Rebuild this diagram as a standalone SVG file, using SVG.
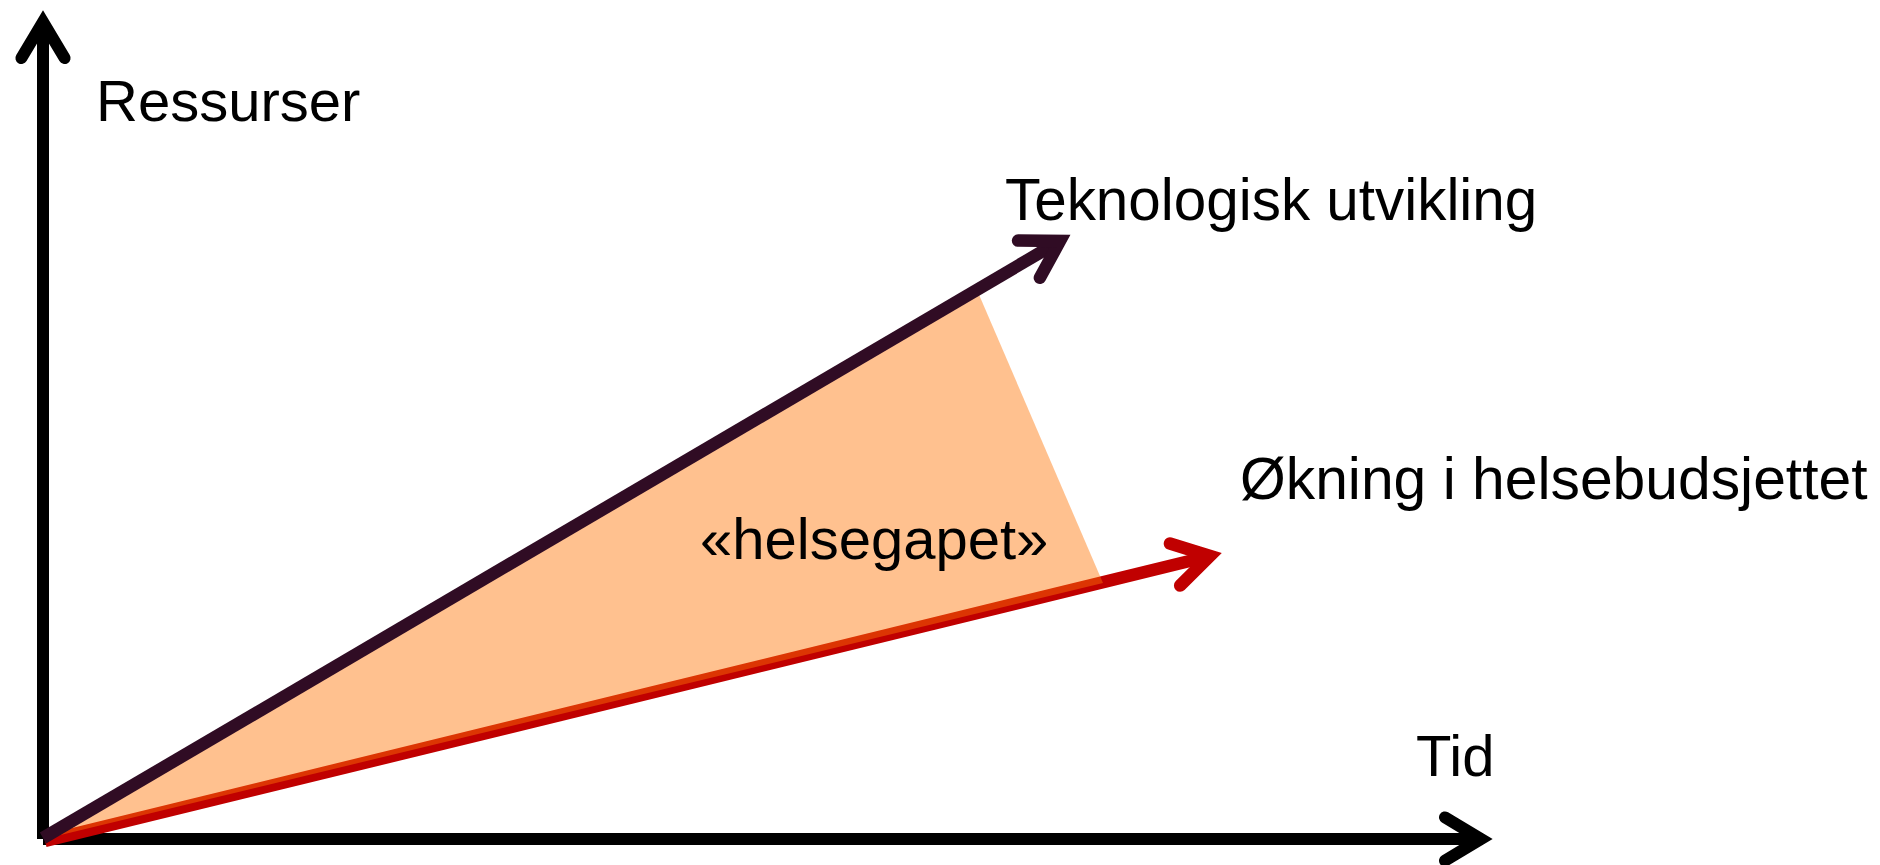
<svg xmlns="http://www.w3.org/2000/svg" width="1880" height="865" viewBox="0 0 1880 865">
  <style>
    .lbl { font-family: "Liberation Sans", Arial, sans-serif; font-size: 58px; fill: #000; }
    .ax { stroke: #000; stroke-width: 12; fill: none; stroke-linecap: butt; }
    .tech { stroke: #300C24; stroke-width: 12.5; fill: none; }
    .budget { stroke: #C00000; stroke-width: 12.5; fill: none; }
  </style>
  <defs>
    <marker id="headBlack" markerUnits="userSpaceOnUse" orient="auto" refX="0" refY="0" markerWidth="100" markerHeight="100" viewBox="-50 -50 100 100" overflow="visible">
      <polyline points="-36,-21.6 0,0 -36,21.6" fill="none" stroke="#000" stroke-width="12" stroke-linecap="round" stroke-linejoin="miter"/>
    </marker>
    <marker id="headPurple" markerUnits="userSpaceOnUse" orient="auto" refX="0" refY="0" markerWidth="100" markerHeight="100" viewBox="-50 -50 100 100" overflow="visible">
      <polyline points="-36,-21.6 0,0 -36,21.6" fill="none" stroke="#300C24" stroke-width="12.5" stroke-linecap="round" stroke-linejoin="miter"/>
    </marker>
    <marker id="headRed" markerUnits="userSpaceOnUse" orient="auto" refX="0" refY="0" markerWidth="100" markerHeight="100" viewBox="-50 -50 100 100" overflow="visible">
      <polyline points="-36,-21.6 0,0 -36,21.6" fill="none" stroke="#C00000" stroke-width="12.5" stroke-linecap="round" stroke-linejoin="miter"/>
    </marker>
  </defs>
  <rect width="1880" height="865" fill="#fff"/>
  <g id="connectors">
    <line id="y-axis" class="ax" x1="43" y1="839" x2="43" y2="22" marker-end="url(#headBlack)"/>
    <line id="x-axis" class="ax" x1="43" y1="839" x2="1481" y2="839" marker-end="url(#headBlack)"/>
    <line id="budget-line" class="budget" x1="45" y1="841" x2="1210" y2="556" marker-end="url(#headRed)"/>
  </g>
  <g id="gap-area">
    <polygon points="44,839 977,290 1103,583" fill="#FF7506" fill-opacity="0.45"/>
  </g>
  <g id="connectors-top">
    <line id="tech-line" class="tech" x1="43" y1="838" x2="1060" y2="241" marker-end="url(#headPurple)"/>
  </g>
  <g id="label-ressurser"><text class="lbl" x="96" y="121">Ressurser</text></g>
  <g id="label-tech"><text class="lbl" x="1005" y="220" style="font-size:58.4px">Teknologisk utvikling</text></g>
  <g id="label-budget"><text class="lbl" x="1240" y="499" style="font-size:58.8px">Økning i helsebudsjettet</text></g>
  <g id="label-gap"><text class="lbl" x="700" y="559">«helsegapet»</text></g>
  <g id="label-tid"><text class="lbl" x="1416" y="776">Tid</text></g>
</svg>
